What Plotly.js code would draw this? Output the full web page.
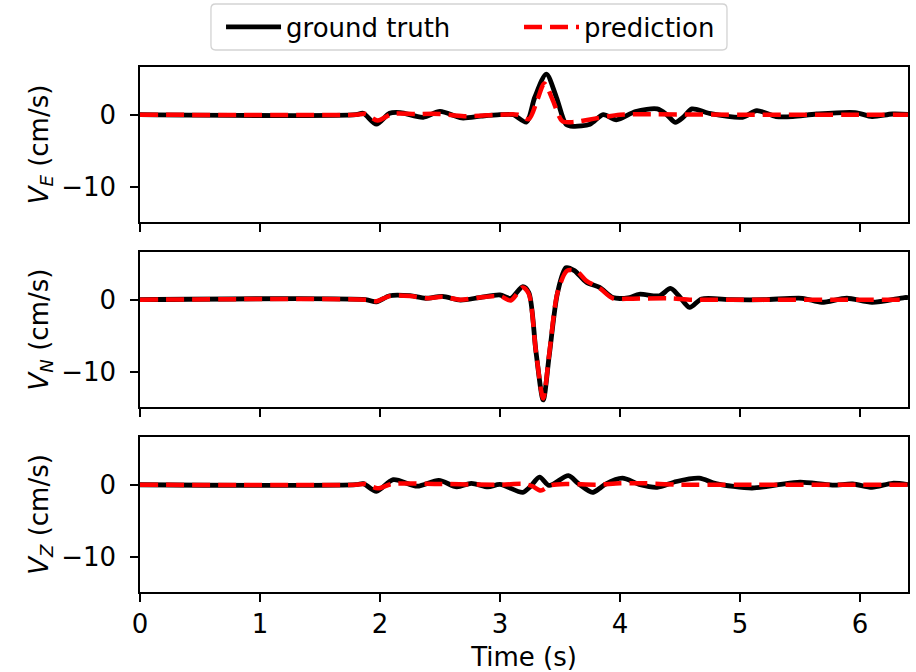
<!DOCTYPE html>
<html>
<head>
<meta charset="utf-8">
<script src="https://cdn.plot.ly/plotly-3.0.1.min.js"></script>
<style>html,body{margin:0;padding:0;background:#fff;}#chart{width:916px;height:672px;}</style>
</head>
<body>
<div id="chart"></div>
<script>
// ---- data ----
var seriesNames = ["ground truth", "prediction"];
var panelLabels = ["<i>V</i><sub><i>E</i></sub> (cm/s)", "<i>V</i><sub><i>N</i></sub> (cm/s)", "<i>V</i><sub><i>Z</i></sub> (cm/s)"];
var xTicks = [0, 1, 2, 3, 4, 5, 6];
var yTicks = [-10, 0];

// East component
var tTrueE = [0, 1.80, 1.86, 1.97, 2.08, 2.17, 2.36, 2.50, 2.68, 2.84, 3.00, 3.11, 3.22, 3.29, 3.386, 3.47, 3.55, 3.61, 3.75, 3.86, 3.97, 4.13, 4.31, 4.39, 4.46, 4.53, 4.60, 4.74, 5.02, 5.14, 5.30, 5.44, 5.64, 5.96, 6.10, 6.27, 6.40];
var vTrueE = [0, 0, 0.2, -1.3, 0.2, 0.3, -0.35, 0.45, -0.45, -0.2, 0, 0, -1.0, 2.4, 5.6, 2.4, -1.3, -1.6, -1.3, 0, -0.7, 0.45, 0.8, 0, -1.05, -0.3, 0.8, 0.2, -0.35, 0.55, -0.25, -0.25, 0.1, 0.3, -0.25, 0.1, 0.05];
var tPredE = [0, 1.80, 1.88, 1.98, 2.10, 2.30, 2.50, 2.70, 3.00, 3.15, 3.24, 3.31, 3.37, 3.44, 3.52, 3.62, 3.80, 4.00, 4.20, 5.00, 6.00, 6.40];
var vPredE = [0, 0, 0.1, -0.8, 0.1, 0.1, 0.1, -0.2, 0, 0, -0.6, 2.0, 4.3, 2.0, -0.9, -1.0, -0.5, 0, 0.05, 0, 0, 0];

// North component
var tTrueN = [0, 1.88, 1.97, 2.08, 2.25, 2.38, 2.52, 2.67, 2.83, 3.00, 3.09, 3.19, 3.24, 3.30, 3.36, 3.41, 3.48, 3.55, 3.62, 3.72, 3.83, 3.94, 4.08, 4.16, 4.33, 4.42, 4.49, 4.58, 4.68, 4.93, 5.20, 5.52, 5.68, 5.89, 6.10, 6.37, 6.40];
var vTrueN = [0, 0, -0.3, 0.55, 0.55, 0.2, 0.45, -0.05, 0.3, 0.65, 0.2, 1.8, 1.0, -7.2, -13.8, -7.7, 1.0, 4.4, 4.0, 2.4, 1.7, 0.3, 0.3, 0.75, 0.55, 1.55, 0.55, -1.05, 0.1, 0, 0, 0.2, -0.35, 0.2, -0.35, 0.3, 0.3];
var tPredN = [0, 1.88, 1.97, 2.08, 2.25, 2.40, 2.52, 2.67, 2.83, 3.00, 3.09, 3.19, 3.24, 3.30, 3.36, 3.41, 3.48, 3.56, 3.64, 3.72, 3.83, 3.94, 4.10, 4.40, 4.60, 5.00, 6.00, 6.40];
var vPredN = [0, 0, -0.2, 0.5, 0.5, 0.2, 0.4, 0, 0.3, 0.5, -0.1, 1.7, 0.8, -7.2, -13.6, -7.5, 1.0, 4.0, 3.9, 2.6, 1.6, 0.2, 0.15, 0.2, 0, 0, 0, 0];

// Vertical component
var tTrueZ = [0, 1.80, 1.86, 1.97, 2.11, 2.31, 2.49, 2.64, 2.76, 2.90, 3.00, 3.19, 3.25, 3.33, 3.41, 3.57, 3.65, 3.77, 3.83, 3.88, 4.02, 4.16, 4.31, 4.47, 4.66, 4.80, 5.10, 5.32, 5.50, 5.77, 5.94, 6.10, 6.27, 6.40];
var vTrueZ = [0, 0, 0.15, -0.9, 0.7, -0.2, 0.6, -0.3, 0.2, -0.3, 0.05, -1.05, -0.3, 1.05, -0.1, 1.25, 0.2, -1.05, -0.5, 0.1, 0.9, 0.05, -0.35, 0.45, 0.9, 0.15, -0.45, 0, 0.35, -0.05, 0.1, -0.35, 0.2, 0];
var tPredZ = [0, 1.80, 1.88, 1.98, 2.10, 2.50, 3.00, 3.20, 3.27, 3.34, 3.42, 3.55, 3.80, 4.00, 4.20, 4.50, 5.00, 6.00, 6.40];
var vPredZ = [0, 0, 0.1, -0.5, 0.1, 0.1, 0, 0.1, -0.2, -0.8, -0.1, 0.1, 0, 0.2, 0.2, 0, 0, 0, 0];

// ---- build ----
var panels = [
  {t1: tTrueE, v1: vTrueE, t2: tPredE, v2: vPredE},
  {t1: tTrueN, v1: vTrueN, t2: tPredN, v2: vPredN},
  {t1: tTrueZ, v1: vTrueZ, t2: tPredZ, v2: vPredZ}
];
var FONT = "DejaVu Sans, Liberation Sans, sans-serif";
var FS = 26;
var traces = [];
panels.forEach(function (p, i) {
  var xa = i === 0 ? "x" : "x" + (i + 1);
  var ya = i === 0 ? "y" : "y" + (i + 1);
  traces.push({x: p.t1, y: p.v1, xaxis: xa, yaxis: ya, type: "scatter", mode: "lines",
    name: seriesNames[0], legendgroup: "gt", showlegend: i === 0,
    line: {color: "#000000", width: 4.8, shape: "spline", smoothing: 0.8}});
  traces.push({x: p.t2, y: p.v2, xaxis: xa, yaxis: ya, type: "scatter", mode: "lines",
    name: seriesNames[1], legendgroup: "pr", showlegend: i === 0,
    line: {color: "#ff0000", width: 4.5, dash: "18px,8px", shape: "spline", smoothing: 0.8}});
});

// legend frame (rounded) in paper coordinates
var bx0 = 0.0924, bx1 = 0.7643, by0 = 1.0324, by1 = 1.12, rx = 0.006, ry = 0.009;
var framePath = "M" + (bx0 + rx) + "," + by1 + " L" + (bx1 - rx) + "," + by1 +
  " Q" + bx1 + "," + by1 + " " + bx1 + "," + (by1 - ry) +
  " L" + bx1 + "," + (by0 + ry) + " Q" + bx1 + "," + by0 + " " + (bx1 - rx) + "," + by0 +
  " L" + (bx0 + rx) + "," + by0 + " Q" + bx0 + "," + by0 + " " + bx0 + "," + (by0 + ry) +
  " L" + bx0 + "," + (by1 - ry) + " Q" + bx0 + "," + by1 + " " + (bx0 + rx) + "," + by1 + " Z";

var domains = [[0.7048, 1], [0.3524, 0.6476], [0, 0.2952]];
var layout = {
  width: 916, height: 672,
  margin: {l: 140, r: 8, t: 67, b: 80, pad: 0, autoexpand: false},
  paper_bgcolor: "#ffffff", plot_bgcolor: "#ffffff",
  font: {family: FONT, size: FS, color: "#000000"},
  showlegend: true,
  legend: {orientation: "h", x: 0.1055, xanchor: "left", y: 1.0762, yanchor: "middle",
    borderwidth: 0, bgcolor: "rgba(0,0,0,0)",
    entrywidth: 228, entrywidthmode: "pixels", itemwidth: 55,
    font: {family: FONT, size: FS, color: "#000000"}, traceorder: "normal"},
  shapes: [{type: "path", xref: "paper", yref: "paper", path: framePath,
    line: {color: "#d3d3d3", width: 1.3}, fillcolor: "rgba(0,0,0,0)", layer: "above"}]
};
for (var i = 0; i < 3; i++) {
  var sx = i === 0 ? "" : String(i + 1);
  var yName = i === 0 ? "y" : "y" + (i + 1);
  layout["xaxis" + sx] = {
    domain: [0, 1], anchor: yName, range: [0, 6.4], tickvals: xTicks,
    ticktext: xTicks.map(String), showticklabels: i === 2,
    ticks: "outside", ticklen: 8, tickwidth: 1.8, tickcolor: "#000",
    showline: true, linecolor: "#000", linewidth: 1.8, mirror: true,
    showgrid: false, zeroline: false, fixedrange: true,
    matches: i === 0 ? undefined : "x",
    tickfont: {family: FONT, size: FS, color: "#000"},
    title: i === 2 ? {text: "Time (s)", font: {family: FONT, size: FS, color: "#000"}, standoff: 10} : undefined
  };
  layout["yaxis" + sx] = {
    domain: domains[i], anchor: i === 0 ? "x" : "x" + (i + 1), range: [-14.77, 6.57],
    tickvals: yTicks, ticks: "outside", ticklen: 8, tickwidth: 1.8, tickcolor: "#000",
    ticklabelstandoff: 9,
    showline: true, linecolor: "#000", linewidth: 1.8, mirror: true,
    showgrid: false, zeroline: false, fixedrange: true,
    tickfont: {family: FONT, size: FS, color: "#000"},
    title: {text: panelLabels[i], font: {family: FONT, size: FS, color: "#000"}, standoff: 5}
  };
}
Plotly.newPlot("chart", traces, layout, {staticPlot: true, displayModeBar: false});
</script>
</body>
</html>
